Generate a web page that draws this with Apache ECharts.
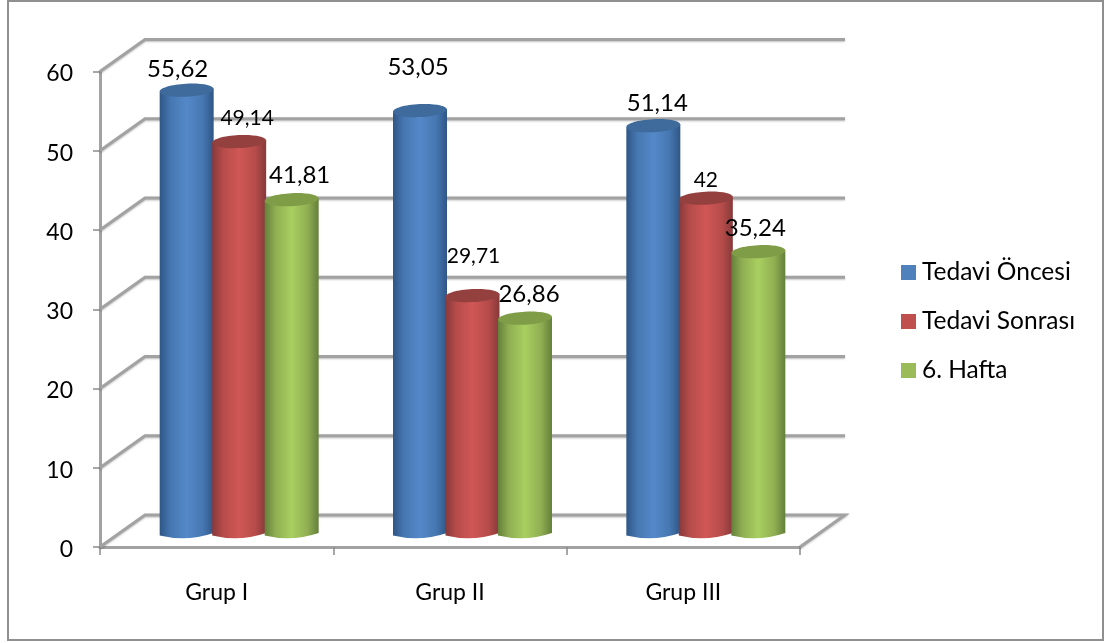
<!DOCTYPE html>
<html>
<head>
<meta charset="utf-8">
<style>html,body{margin:0;padding:0;background:#fff}#chart{width:1105px;height:643px}</style>
<script src="https://cdn.jsdelivr.net/npm/echarts@6/dist/echarts.min.js"></script>
</head>
<body>
<div id="chart"></div>
<script>
// Kategoriler ve ölçüm değerleri
const groups = ['Grup I', 'Grup II', 'Grup III'];
const seriesNames = ['Tedavi Öncesi', 'Tedavi Sonrası', '6. Hafta'];
const tedaviOncesi = [55.62, 53.05, 51.14];
const tedaviSonrasi = [49.14, 29.71, 42];
const altinciHafta = [41.81, 26.86, 35.24];
const yTicks = [0, 10, 20, 30, 40, 50, 60];

// Label nudges in pixels: [dx, lift above the cylinder top]
const labelNudgeOncesi = [[-9, 21], [-2, 43], [4, 22]];
const labelNudgeSonrasi = [[8, 23], [1, 39], [0, 18]];
const labelNudgeHafta = [[8, 24], [4, 24], [-3, 23]];

const FONT = 'Lato';
const DEPTH_X = 45, DEPTH_Y = -32;     // floor depth of the 3D box
const BAR_RATIO = 0.2314;              // cylinder width / category band
const STEP_RATIO = 0.225;              // centre spacing / category band

const palettes = [
  { legend: '#4f81bd', edge: '#2f5686', mid: '#4677b1', light: '#5488c8', cap: '#3f6a9c' },
  { legend: '#c0504d', edge: '#87393a', mid: '#b54c4a', light: '#d05755', cap: '#94403e' },
  { legend: '#9bbb59', edge: '#64803a', mid: '#8fae52', light: '#a9cf60', cap: '#7f9c47' }
];

const chart = echarts.init(document.getElementById('chart'));

function wallItem(params, api) {
  const cs = params.coordSys;
  const p = api.coord([0, api.value(1)]);
  const x0 = cs.x, y = p[1];
  const pts = [[x0, y], [x0 + DEPTH_X, y + DEPTH_Y], [x0 + cs.width + DEPTH_X, y + DEPTH_Y]];
  if (api.value(1) === 0) pts.push([x0 + cs.width, y]);
  return {
    type: 'polyline',
    shape: { points: pts },
    style: { fill: null, stroke: '#a2a2a2', lineWidth: 3, shadowBlur: 2, shadowOffsetY: 1, shadowColor: 'rgba(0,0,0,0.25)' },
    silent: true
  };
}

function cylinderRenderer(sIdx, nudges) {
  const pal = palettes[sIdx];
  return function (params, api) {
    const band = api.size([1, 0])[0];
    const w = band * BAR_RATIO;
    const cat = api.value(0), val = api.value(1);
    const top = api.coord([cat, val]);
    const base = api.coord([cat, 0]);
    const cx = top[0] + DEPTH_X / 2 + (sIdx - 1) * band * STEP_RATIO;
    const yTop = top[1] + DEPTH_Y / 2;
    const yBase = base[1] + DEPTH_Y / 2;
    const l = cx - w / 2, r = cx + w / 2;
    const body = 'M' + l + ' ' + (yTop + 1.5) +
      'L' + r + ' ' + (yTop - 1.5) +
      'L' + r + ' ' + (yBase + 2) +
      'Q' + cx + ' ' + (yBase + 11) + ' ' + l + ' ' + (yBase + 4.5) + 'Z';
    const nudge = nudges[params.dataIndex];
    return {
      type: 'group',
      children: [
        {
          type: 'path',
          shape: { pathData: body },
          style: {
            fill: new echarts.graphic.LinearGradient(0, 0, 1, 0, [
              { offset: 0, color: pal.edge },
              { offset: 0.2, color: pal.mid },
              { offset: 0.5, color: pal.light },
              { offset: 0.8, color: pal.mid },
              { offset: 1, color: pal.edge }
            ])
          }
        },
        {
          type: 'ellipse',
          x: cx, y: yTop, rotation: 0.05,
          shape: { cx: 0, cy: 0, rx: w / 2, ry: 6.5 },
          style: { fill: pal.cap }
        },
        {
          type: 'text',
          z2: 100,
          x: cx + nudge[0], y: yTop - nudge[1],
          style: {
            text: String(val).replace('.', ','),
            font: (sIdx === 1 ? 21 : 24) + 'px ' + FONT,
            fill: '#000', align: 'center', verticalAlign: 'middle'
          }
        }
      ]
    };
  };
}

function toPairs(values) { return values.map((v, i) => [i, v]); }

const valueSets = [tedaviOncesi, tedaviSonrasi, altinciHafta];
const nudgeSets = [labelNudgeOncesi, labelNudgeSonrasi, labelNudgeHafta];

chart.setOption({
  animation: false,
  backgroundColor: '#fff',
  graphic: [{
    type: 'rect', silent: true, z: -1,
    shape: { x: 8, y: 1, width: 1095, height: 639 },
    style: { fill: '#fff', stroke: '#8f8f8f', lineWidth: 2 }
  }],
  grid: { left: 100, right: 305, top: 71.5, bottom: 96, containLabel: false },
  xAxis: {
    type: 'category',
    data: groups,
    axisLine: { lineStyle: { color: '#a2a2a2', width: 3 } },
    axisTick: { show: true, length: 8, lineStyle: { color: '#8c8c8c', width: 1.5 } },
    axisLabel: { color: '#000', fontFamily: FONT, fontSize: 23, margin: 34 },
    splitLine: { show: false }
  },
  yAxis: {
    type: 'value', min: 0, max: 60, interval: 10,
    axisLine: { show: true, lineStyle: { color: '#a2a2a2', width: 3 } },
    axisTick: { show: true, length: 7, lineStyle: { color: '#8c8c8c', width: 1.5 } },
    axisLabel: {
      margin: 27,
      formatter: '{t|{value}}',
      rich: { t: { color: '#000', fontFamily: FONT, fontSize: 23, padding: [5, 0, 0, 0] } }
    },
    splitLine: { show: false }
  },
  legend: {
    orient: 'vertical',
    left: 901, top: 260, padding: 0,
    data: seriesNames,
    icon: 'rect',
    itemWidth: 15, itemHeight: 15, itemGap: 24,
    selectedMode: false,
    textStyle: { color: '#000', fontFamily: FONT, fontSize: 24.5, padding: [0, 0, 0, 1] }
  },
  series: [
    {
      name: 'duvar', type: 'custom', silent: true, z: 1,
      data: yTicks.map(t => [0, t]),
      encode: { x: 0, y: 1 },
      renderItem: wallItem
    }
  ].concat(seriesNames.map((name, s) => ({
    name,
    type: 'custom',
    z: 3,
    clip: false,
    itemStyle: { color: palettes[s].legend },
    data: toPairs(valueSets[s]),
    encode: { x: 0, y: 1 },
    renderItem: cylinderRenderer(s, nudgeSets[s])
  })))
});
</script>
</body>
</html>
